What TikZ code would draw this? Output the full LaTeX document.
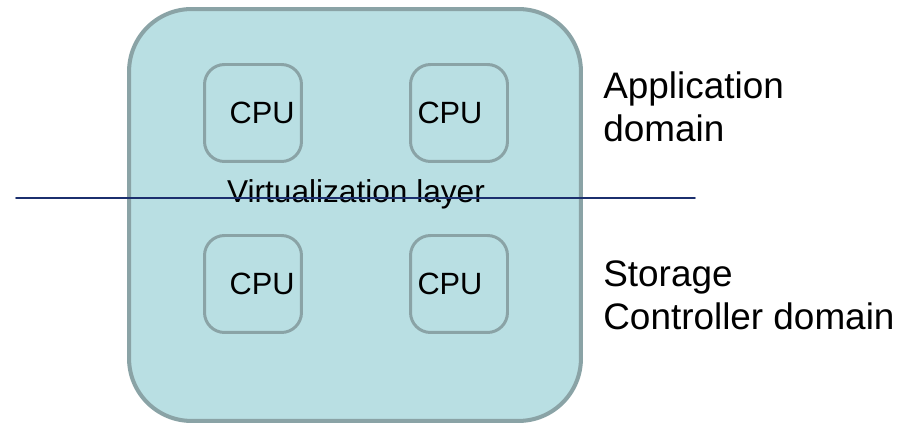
\documentclass[tikz,border=0pt]{standalone}
\usepackage{fontspec}
\setmainfont{Liberation Sans}
\definecolor{hostfill}{HTML}{B9DFE3}
\definecolor{hostedge}{HTML}{8AA3A6}
\definecolor{layerline}{HTML}{1B2F6E}
\tikzset{
	host/.style={draw=hostedge,fill=hostfill,line width=2.3pt,rounded corners=1.25cm,minimum width=9.04cm,minimum height=8.24cm,inner sep=0pt},
	cpu/.style={draw=hostedge,line width=1.7pt,rounded corners=0.4cm,minimum height=1.94cm,text width=1.66cm,inner xsep=0.14cm,inner ysep=0pt,font=\fontsize{17.5}{21}\selectfont},
	domainlabel/.style={anchor=north west,align=left,inner sep=0pt,font=\fontsize{21}{24.5}\selectfont}
}
\begin{document}
\begin{tikzpicture}[line cap=round,line join=round,x=0.02cm,y=-0.02cm]
		\useasboundingbox (0,0) rectangle (910,425);
		\node[host] (host) at (355,215) {};
		\node[cpu,align=right] (cpuA) at (253,113) {CPU};
		\node[cpu,align=left] (cpuB) at (459,113) {CPU};
		\node[cpu,align=right] (cpuC) at (253,284) {CPU};
		\node[cpu,align=left] (cpuD) at (459,284) {CPU};
		\node[anchor=base,inner sep=0pt,font=\fontsize{18}{21}\selectfont] (virt) at (356,203) {Virtualization layer};
		\coordinate (layerL) at (16,198);
		\coordinate (layerR) at (695,198);
		\draw[color=layerline,line width=1.1pt] (layerL)-- (layerR);
		\node[domainlabel] (app) at (603,71) {Application\\domain};
		\node[domainlabel] (stor) at (603,260) {Storage\\Controller domain};
	\end{tikzpicture}
\end{document}
